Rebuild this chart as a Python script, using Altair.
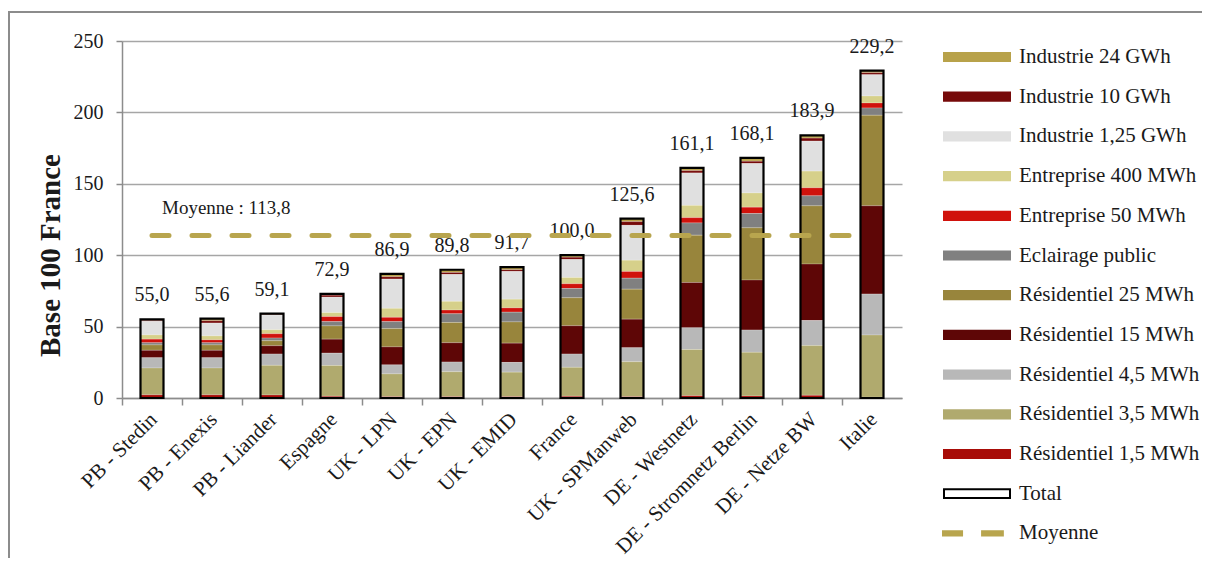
import altair as alt
import pandas as pd

F = "Liberation Serif"
GOLD = "#b8a54e"

categories = ["PB - Stedin", "PB - Enexis", "PB - Liander", "Espagne", "UK - LPN", "UK - EPN",
              "UK - EMID", "France", "UK - SPManweb", "DE - Westnetz", "DE - Stromnetz Berlin",
              "DE - Netze BW", "Italie"]

res_1_5 = [2.2, 2.2, 2.1, 1.2, 0.9, 0.9, 0.9, 1.2, 0.9, 1.6, 1.4, 1.9, 0.5]
res_3_5 = [18.8, 18.8, 20.8, 21.6, 16.0, 17.5, 17.2, 20.3, 24.5, 32.4, 30.6, 34.8, 43.6]
res_4_5 = [7.2, 7.2, 7.9, 8.6, 6.3, 6.8, 6.8, 9.3, 9.8, 15.2, 15.6, 17.5, 28.7]
res_15 = [5.2, 5.2, 5.8, 9.8, 12.6, 13.5, 13.5, 19.8, 20.0, 31.7, 35.0, 39.6, 61.8]
res_25 = [3.8, 3.8, 3.5, 9.3, 12.8, 14.2, 14.9, 19.6, 21.0, 33.1, 36.6, 40.8, 63.4]
eclairage = [1.5, 1.5, 1.9, 3.0, 4.9, 6.1, 6.8, 6.5, 7.7, 8.6, 10.0, 7.0, 5.1]
ent_50 = [2.5, 2.0, 3.0, 3.5, 3.0, 2.6, 3.0, 3.3, 4.7, 3.7, 4.4, 5.6, 3.5]
ent_400 = [3.0, 2.8, 2.8, 2.8, 6.3, 6.1, 6.1, 4.4, 7.9, 8.6, 10.0, 11.7, 4.9]
ind_1_25 = [9.5, 9.0, 10.3, 10.8, 20.5, 18.8, 19.4, 12.6, 24.4, 22.7, 20.6, 21.0, 14.9]
ind_10 = [0.7, 1.6, 0.5, 1.4, 1.6, 1.4, 1.2, 1.6, 2.6, 1.6, 1.6, 2.1, 1.4]
ind_24 = [0.6, 1.5, 0.5, 0.9, 2.0, 1.9, 1.9, 1.4, 2.1, 1.9, 2.3, 1.9, 1.4]

totals = [55.0, 55.6, 59.1, 72.9, 86.9, 89.8, 91.7, 100.0, 125.6, 161.1, 168.1, 183.9, 229.2]
moyenne = 113.8

# legend order (top to bottom)
series_names = ["Industrie 24 GWh", "Industrie 10 GWh", "Industrie 1,25 GWh", "Entreprise 400 MWh",
                "Entreprise 50 MWh", "Eclairage public", "Résidentiel 25 MWh", "Résidentiel 15 MWh",
                "Résidentiel 4,5 MWh", "Résidentiel 3,5 MWh", "Résidentiel 1,5 MWh"]
series_colors = ["#b8a24a", "#760a0a", "#e0e0e0", "#d6d08a", "#d0120c", "#808080",
                 "#98853c", "#5e0606", "#b8b8b8", "#b0aa6e", "#a80c08"]
series_values = [ind_24, ind_10, ind_1_25, ent_400, ent_50, eclairage, res_25, res_15,
                 res_4_5, res_3_5, res_1_5]

rows = []
n = len(series_names)
for i, (name, vals) in enumerate(zip(series_names, series_values)):
    for cat, v in zip(categories, vals):
        rows.append({"cat": cat, "serie": name, "val": v, "rank": n - 1 - i})
seg = pd.DataFrame(rows)


def fr(v):
    return f"{v:.1f}".replace(".", ",")


tot = pd.DataFrame({"cat": categories, "total": totals, "label": [fr(t) for t in totals]})
moy = pd.DataFrame({"cat": categories, "y": [moyenne] * len(categories)})
moy_lab = pd.DataFrame({"cat": [categories[0]], "y": [moyenne], "t": ["Moyenne : " + fr(moyenne)]})

legend_domain = series_names + ["Total", "Moyenne"]
legend_range = series_colors + ["white", GOLD]
leg = pd.DataFrame({"serie": legend_domain})

RECT = "M-1,-0.15H1V0.15H-1Z"
TOT = "M-0.97,-0.13H0.97V0.13H-0.97Z"
MOY = "M-1.06,-0.09H-0.41V0.09H-1.06Z M0.12,-0.09H0.79V0.09H0.12Z"

shape_range = [RECT] * len(series_names) + [TOT, MOY]
stroke_range = ["transparent"] * len(series_names) + ["black", "transparent"]

xscale = alt.Scale(domain=categories, paddingInner=0, paddingOuter=0)
yscale = alt.Scale(domain=[0, 250], nice=False)


def make_legend():
    return alt.Legend(
        orient="none", legendX=820, legendY=6, title=None,
        symbolSize=4624, symbolStrokeWidth=2,
        labelFont=F, labelFontSize=21, labelColor="#1a1a1a",
        labelOffset=7, labelLimit=400, clipHeight=20, rowPadding=18.7,
    )


def make_yaxis():
    return alt.Axis(values=[0, 50, 100, 150, 200, 250], grid=True, gridColor="#a6a6a6",
                    gridWidth=1.5, domainColor="#8c8c8c", domainWidth=1.5,
                    tickColor="#8c8c8c", tickWidth=1.5, tickSize=6, labelFont=F,
                    labelFontSize=20, labelColor="#1a1a1a", labelPadding=13,
                    title="Base 100 France", titleFont=F, titleFontSize=29,
                    titleFontWeight="bold", titleColor="#1a1a1a",
                    titleX=-72, titleY=214, titleBaseline="middle", titleAlign="center")


frame = alt.Chart(pd.DataFrame({"k": [0]})).mark_rect(
    fill="transparent", stroke="#8c8c8c", strokeWidth=2
).encode(x=alt.value(-113), x2=alt.value(1200), y=alt.value(-29), y2=alt.value(700))

bars = alt.Chart(seg).mark_bar(size=23, stroke="white", strokeWidth=0.4, strokeOpacity=0.5).encode(
    x=alt.X("cat:N", scale=xscale, sort=categories,
            axis=alt.Axis(title=None, labelAngle=-45, labelAlign="right", labelBaseline="middle",
                          labelFont=F, labelFontSize=21, labelColor="#1a1a1a", labelPadding=18,
                          labelOffset=2, ticks=False, domainColor="#8c8c8c", domainWidth=1.5,
                          grid=False, labelLimit=400, orient="bottom")),
    y=alt.Y("val:Q", stack="zero", scale=yscale, axis=make_yaxis()),
    color=alt.Color("serie:N", scale=alt.Scale(domain=legend_domain, range=legend_range),
                    legend=make_legend()),
    order=alt.Order("rank:Q", sort="ascending"),
)

legend_pts = alt.Chart(leg).mark_point(filled=True, opacity=0, strokeWidth=2).encode(
    color=alt.Color("serie:N", scale=alt.Scale(domain=legend_domain, range=legend_range),
                    legend=make_legend()),
    shape=alt.Shape("serie:N", scale=alt.Scale(domain=legend_domain, range=shape_range),
                    legend=make_legend()),
    stroke=alt.Stroke("serie:N", scale=alt.Scale(domain=legend_domain, range=stroke_range),
                      legend=make_legend()),
)

outline = alt.Chart(tot).mark_bar(size=23, fill="transparent", stroke="black", strokeWidth=2.2).encode(
    x=alt.X("cat:N", scale=xscale, sort=categories,
            axis=alt.Axis(title=None, labels=False, domain=False, ticks=True, tickColor="#8c8c8c",
                          tickWidth=1.5, tickSize=7, bandPosition=0, grid=False, orient="bottom")),
    y=alt.Y("total:Q", scale=yscale, axis=make_yaxis()),
)

values = alt.Chart(tot).mark_text(dy=-18, baseline="alphabetic", font=F, fontSize=20,
                                  color="#1a1a1a").encode(
    x=alt.X("cat:N", scale=xscale, sort=categories, axis=None),
    y=alt.Y("total:Q", scale=yscale, axis=make_yaxis()),
    text="label:N",
)

line = alt.Chart(moy).mark_line(color=GOLD, strokeWidth=5, strokeDash=[17, 23], strokeCap="round").encode(
    x=alt.X("cat:N", scale=xscale, sort=categories, axis=None),
    y=alt.Y("y:Q", scale=yscale, axis=make_yaxis()),
)

moy_text = alt.Chart(moy_lab).mark_text(align="left", baseline="alphabetic", dx=10, dy=-21,
                                        font=F, fontSize=19, color="#1a1a1a").encode(
    x=alt.X("cat:N", scale=xscale, sort=categories, axis=None),
    y=alt.Y("y:Q", scale=yscale, axis=make_yaxis()),
    text="t:N",
)

chart = alt.layer(frame, bars, outline, values, line, moy_text, legend_pts).resolve_axis(
    x="independent"
).properties(
    width=780, height=357,
    padding={"left": 114, "top": 33, "right": 300, "bottom": 160},
    autosize=alt.AutoSizeParams(type="none"),
    background="white",
).configure_view(stroke=None)

chart.save("out.html", embed_options={"renderer": "svg", "actions": False})
